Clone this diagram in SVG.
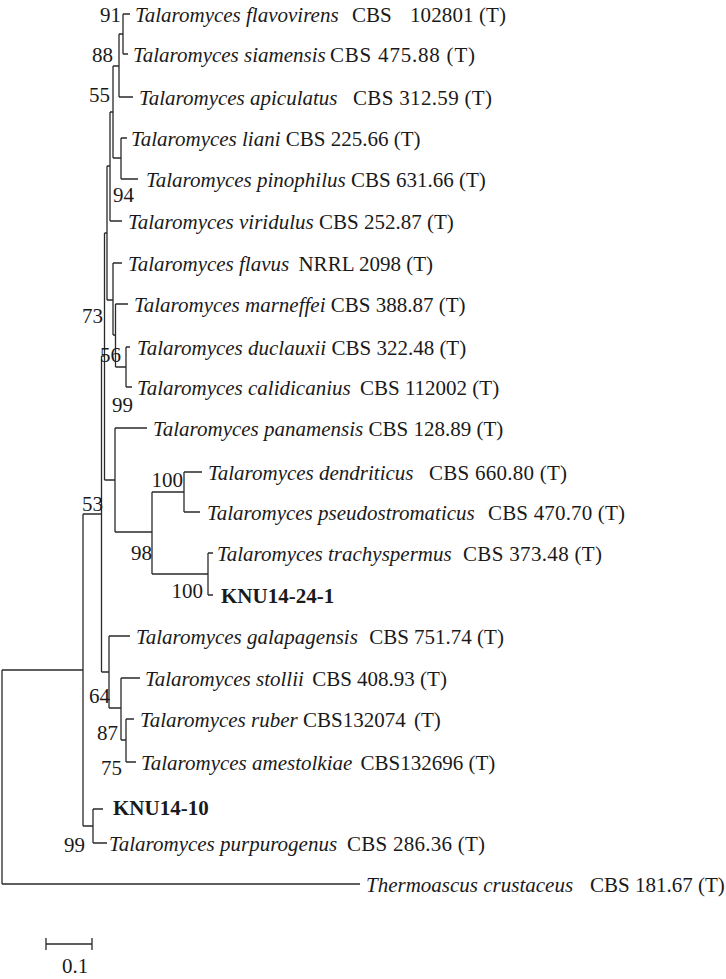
<svg xmlns="http://www.w3.org/2000/svg" width="726" height="979" viewBox="0 0 726 979">
<style>
text{font-family:"Liberation Serif","Times New Roman",serif;font-size:21px;fill:#1a1a1a}
.i{font-style:italic}
.b{font-weight:bold}
#connectors path{fill:none;stroke:#2a2a2a;stroke-width:1.3}
</style>
<rect width="726" height="979" fill="#fff"/>
<g id="connectors">
<path d="M123,14H130M123,54H128M123,14V54"/>
<path d="M119,34H123M119,34V97M119,97H133"/>
<path d="M113,66H119M113,66V158M113,158H121"/>
<path d="M121,138V179M121,138H127M121,179H138"/>
<path d="M110,112H113M110,112V221M110,221H122"/>
<path d="M107,166H110M107,166V300M107,300H113"/>
<path d="M113,263V335M113,263H122M113,335H115.5"/>
<path d="M115.5,304V367M115.5,304H128M115.5,367H126"/>
<path d="M126,347V387M126,347H130M126,387H132"/>
<path d="M104.5,233H107M104.5,233V480M104.5,480H115"/>
<path d="M115,428V532M115,428H147M115,532H152"/>
<path d="M152,492V574M152,492H184M152,574H208"/>
<path d="M184,472V512M184,472H202M184,512H200"/>
<path d="M208,553V595M208,553H213M208,595H213"/>
<path d="M101.5,356H104.5M101.5,356V672M101.5,672H109"/>
<path d="M109,636V708M109,636H130M109,708H121"/>
<path d="M121,678V740M121,678H140M121,740H126"/>
<path d="M126,719V762M126,719H134M126,762H136"/>
<path d="M83,514H101.5M83,514V826M83,826H93"/>
<path d="M93,809V843M93,809H103M93,843H107"/>
<path d="M2,670H83M2,670V884M2,884H360"/>
<path d="M46,944H92M46,938V950M92,938V950"/>
</g>
<g id="tip-flavovirens"><text x="135" y="22"><tspan class="i">Talaromyces flavovirens</tspan></text><text x="352" y="22">CBS</text><text x="410" y="22" textLength="96">102801 (T)</text></g>
<g id="tip-siamensis"><text x="133" y="62"><tspan class="i">Talaromyces siamensis</tspan></text><text x="330" y="62" textLength="145">CBS 475.88 (T)</text></g>
<g id="tip-apiculatus"><text x="139" y="105"><tspan class="i">Talaromyces apiculatus</tspan></text><text x="353" y="105" textLength="139">CBS 312.59 (T)</text></g>
<g id="tip-liani"><text x="131" y="146"><tspan class="i">Talaromyces liani</tspan> CBS 225.66 (T)</text></g>
<g id="tip-pinophilus"><text x="146" y="187"><tspan class="i">Talaromyces pinophilus</tspan> CBS 631.66 (T)</text></g>
<g id="tip-viridulus"><text x="128" y="229"><tspan class="i">Talaromyces viridulus</tspan> CBS 252.87 (T)</text></g>
<g id="tip-flavus"><text x="128" y="271"><tspan class="i">Talaromyces flavus</tspan> <tspan dx="4">NRRL 2098 (T)</tspan></text></g>
<g id="tip-marneffei"><text x="134" y="312"><tspan class="i">Talaromyces marneffei</tspan> CBS 388.87 (T)</text></g>
<g id="tip-duclauxii"><text x="137" y="355"><tspan class="i">Talaromyces duclauxii</tspan> CBS 322.48 (T)</text></g>
<g id="tip-calidicanius"><text x="137" y="395"><tspan class="i">Talaromyces calidicanius</tspan> <tspan dx="4">CBS 112002 (T)</tspan></text></g>
<g id="tip-panamensis"><text x="153" y="436"><tspan class="i">Talaromyces panamensis</tspan> CBS 128.89 (T)</text></g>
<g id="tip-dendriticus"><text x="208" y="480"><tspan class="i">Talaromyces dendriticus</tspan></text><text x="429" y="480" textLength="138">CBS 660.80 (T)</text></g>
<g id="tip-pseudostromaticus"><text x="207" y="520"><tspan class="i">Talaromyces pseudostromaticus</tspan></text><text x="488" y="520" textLength="137">CBS 470.70 (T)</text></g>
<g id="tip-trachyspermus"><text x="217" y="561"><tspan class="i">Talaromyces trachyspermus</tspan></text><text x="463" y="561" textLength="139">CBS 373.48 (T)</text></g>
<g id="tip-KNU14-24-1"><text class="b" x="221" y="603">KNU14-24-1</text></g>
<g id="tip-galapagensis"><text x="136" y="644"><tspan class="i">Talaromyces galapagensis</tspan> <tspan dx="6">CBS 751.74 (T)</tspan></text></g>
<g id="tip-stollii"><text x="145" y="686"><tspan class="i">Talaromyces stollii</tspan> <tspan dx="3">CBS 408.93 (T)</tspan></text></g>
<g id="tip-ruber"><text x="140" y="727"><tspan class="i">Talaromyces ruber</tspan> CBS132074 <tspan dx="3">(T)</tspan></text></g>
<g id="tip-amestolkiae"><text x="141" y="770"><tspan class="i">Talaromyces amestolkiae</tspan> <tspan dx="3">CBS132696 (T)</tspan></text></g>
<g id="tip-KNU14-10"><text class="b" x="113" y="815">KNU14-10</text></g>
<g id="tip-purpurogenus"><text x="109" y="851"><tspan class="i">Talaromyces purpurogenus</tspan></text><text x="347" y="851" textLength="138">CBS 286.36 (T)</text></g>
<g id="tip-thermoascus"><text x="366" y="892"><tspan class="i">Thermoascus crustaceus</tspan></text><text x="590" y="892">CBS 181.67 (T)</text></g>
<g id="support">
<text x="121" y="22" text-anchor="end">91</text>
<text x="113" y="62" text-anchor="end">88</text>
<text x="110" y="102" text-anchor="end">55</text>
<text x="113" y="202">94</text>
<text x="103" y="323" text-anchor="end">73</text>
<text x="100" y="362">56</text>
<text x="112" y="412">99</text>
<text x="183" y="487" text-anchor="end">100</text>
<text x="103" y="511" text-anchor="end">53</text>
<text x="152" y="560" text-anchor="end">98</text>
<text x="203" y="598" text-anchor="end">100</text>
<text x="110" y="703" text-anchor="end">64</text>
<text x="118" y="740" text-anchor="end">87</text>
<text x="122" y="775" text-anchor="end">75</text>
<text x="85" y="852" text-anchor="end">99</text>
</g>
<g id="scale"><text x="75" y="973" text-anchor="middle">0.1</text></g>
</svg>
